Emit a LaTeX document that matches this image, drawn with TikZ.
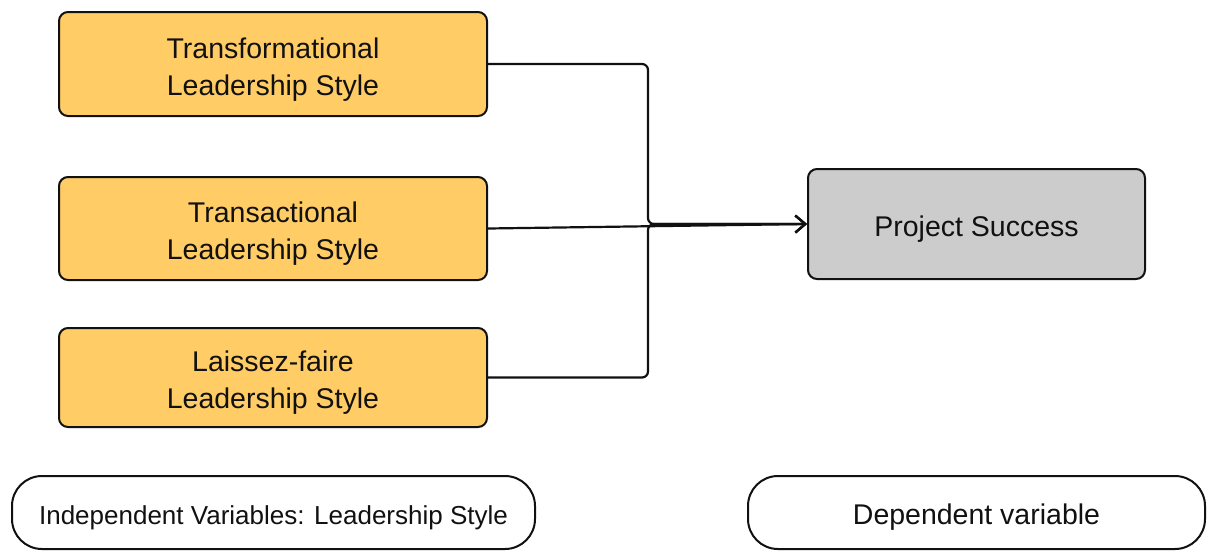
\documentclass[tikz,border=0pt]{standalone}
\usepackage{fontspec}
\setmainfont{Liberation Sans}
\usetikzlibrary{arrows.meta}
\definecolor{ivfill}{HTML}{FFCC66}
\definecolor{dvfill}{HTML}{CCCCCC}
\definecolor{ink}{HTML}{111111}
\begin{document}
\begin{tikzpicture}[x=1pt,y=-1pt,
  box/.style={draw=ink, line width=2pt, rounded corners=9pt, inner sep=0pt, align=center, text=ink,
              font=\fontsize{28.5}{37}\selectfont},
  ivbox/.style={box, fill=ivfill, minimum width=428pt, text height=68pt},
  dvbox/.style={box, fill=dvfill, minimum width=337pt, minimum height=110pt, text height=31pt},
  legend/.style={draw=ink, line width=2pt, rounded corners=30pt, inner sep=0pt, fill=white, text=ink,
                 text height=30pt, minimum height=73pt},
  conn/.style={draw=ink, line width=2.2pt, rounded corners=6pt, -{Straight Barb[length=10pt,width=17pt,line width=2.2pt]}}
]
\useasboundingbox (0,0) rectangle (1212,550);
\node[ivbox, minimum height=104pt] (b1) at (273,64) {Transformational\\Leadership Style};
\node[ivbox, minimum height=103pt] (b2) at (273,228.5) {Transactional\\Leadership Style};
\node[ivbox, minimum height=99pt] (b3) at (273,377.5) {Laissez-faire\\Leadership Style};
\node[dvbox] (ps) at (976.5,224) {Project Success};
\node[legend, minimum width=523pt, font=\fontsize{26}{30}\selectfont] (lg1) at (273.5,512.5) {Independent Variables: Leadership Style};
\node[legend, minimum width=457pt, font=\fontsize{28.5}{34}\selectfont] (lg2) at (976.5,512.5) {Dependent variable};
\coordinate (j) at (648,224);
\draw[conn] (b1.east) -| (j) -- (ps.west);
\draw[conn] (b3.east) -| (j) -- (ps.west);
\draw[conn] (b2.east) -- (ps.west);
\end{tikzpicture}
\end{document}
